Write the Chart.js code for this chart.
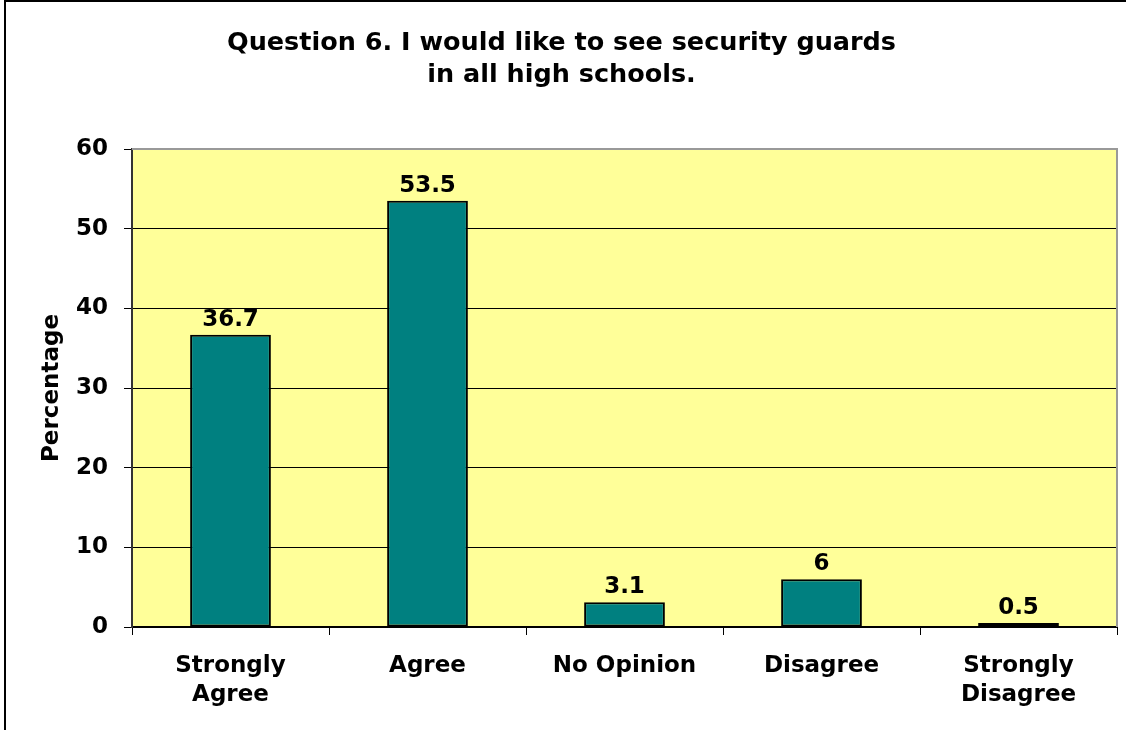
<!DOCTYPE html>
<html>
<head>
<meta charset="utf-8">
<script src="https://cdn.jsdelivr.net/npm/chart.js@4.4.1/dist/chart.umd.min.js"></script>
<style>
  html, body { margin: 0; padding: 0; background: #fff; }
  #wrap { width: 1130px; height: 730px; }
</style>
</head>
<body>
<div id="wrap"><canvas id="chart" width="1130" height="730"></canvas></div>
<script>
const categories = [['Strongly', 'Agree'], 'Agree', 'No Opinion', 'Disagree', ['Strongly', 'Disagree']];
const percentages = [36.7, 53.5, 3.1, 6, 0.5];
const valueLabels = ['36.7', '53.5', '3.1', '6', '0.5'];
const yTicks = [0, 10, 20, 30, 40, 50, 60];

const FONT = 'DejaVu Sans, Verdana, sans-serif';

// yellow plot area + outer frame
const backdrop = {
    id: 'backdrop',
    beforeDraw(chart) {
        const { ctx, chartArea: a } = chart;
        ctx.save();
        ctx.fillStyle = '#FFFF99';
        ctx.fillRect(a.left, a.top, a.right - a.left, a.bottom - a.top);
        ctx.strokeStyle = '#000';
        ctx.lineWidth = 2;
        ctx.beginPath();
        ctx.moveTo(5, 730);
        ctx.lineTo(5, 1);
        ctx.lineTo(1126, 1);
        ctx.stroke();
        ctx.restore();
    },
    afterDatasetsDraw(chart) {
        const { ctx, chartArea: a } = chart;
        ctx.save();
        ctx.strokeStyle = '#999';
        ctx.lineWidth = 2;
        ctx.beginPath();
        ctx.moveTo(a.left, a.top);
        ctx.lineTo(a.right, a.top);
        ctx.lineTo(a.right, a.bottom);
        ctx.stroke();
        ctx.restore();
    }
};

// numbers above the bars
const barValues = {
    id: 'barValues',
    afterDatasetsDraw(chart) {
        const { ctx } = chart;
        const meta = chart.getDatasetMeta(0);
        ctx.save();
        ctx.font = 'bold 23px ' + FONT;
        ctx.fillStyle = '#000';
        ctx.textAlign = 'center';
        ctx.textBaseline = 'alphabetic';
        meta.data.forEach((bar, i) => {
            ctx.fillText(valueLabels[i], bar.x, bar.y - 9);
        });
        ctx.restore();
    }
};

const chart = new Chart(document.getElementById('chart'), {
    type: 'bar',
    data: {
        labels: categories,
        datasets: [{
            data: percentages,
            backgroundColor: '#008080',
            borderColor: '#000',
            borderWidth: 2,
            borderSkipped: false,
            categoryPercentage: 1,
            barPercentage: 0.41
        }]
    },
    plugins: [backdrop, barValues],
    options: {
        responsive: false,
        animation: false,
        devicePixelRatio: 1,
        layout: { padding: { top: 27, right: 13, left: 6, bottom: 0 } },
        plugins: {
            legend: { display: false },
            tooltip: { enabled: false },
            title: {
                display: true,
                text: ['Question 6. I would like to see security guards', 'in all high schools.'],
                color: '#000',
                font: { family: FONT, size: 25.5, weight: 'bold', lineHeight: 1.255 },
                padding: { top: 0, bottom: 58 }
            }
        },
        scales: {
            x: {
                afterFit(scale) { scale.height = 103; },
                grid: {
                    offset: true,
                    drawOnChartArea: false,
                    color: '#000',
                    lineWidth: 1,
                    tickLength: 8
                },
                border: { color: '#000', width: 2 },
                ticks: {
                    color: '#000',
                    padding: 17,
                    maxRotation: 0,
                    font: { family: FONT, size: 23, weight: 'bold', lineHeight: 1.26 }
                }
            },
            y: {
                min: 0,
                max: 60,
                afterFit(scale) { scale.width = 126; },
                afterBuildTicks(scale) { scale.ticks = yTicks.map(v => ({ value: v })); },
                grid: {
                    color: '#000',
                    lineWidth: 1,
                    tickLength: 8
                },
                border: { color: '#333', width: 2 },
                ticks: {
                    color: '#000',
                    padding: 16,
                    font: { family: FONT, size: 23, weight: 'bold' }
                },
                title: {
                    display: true,
                    text: 'Percentage',
                    color: '#000',
                    padding: { top: 32, bottom: 0 },
                    font: { family: FONT, size: 23, weight: 'bold' }
                }
            }
        }
    }
});
</script>
</body>
</html>
